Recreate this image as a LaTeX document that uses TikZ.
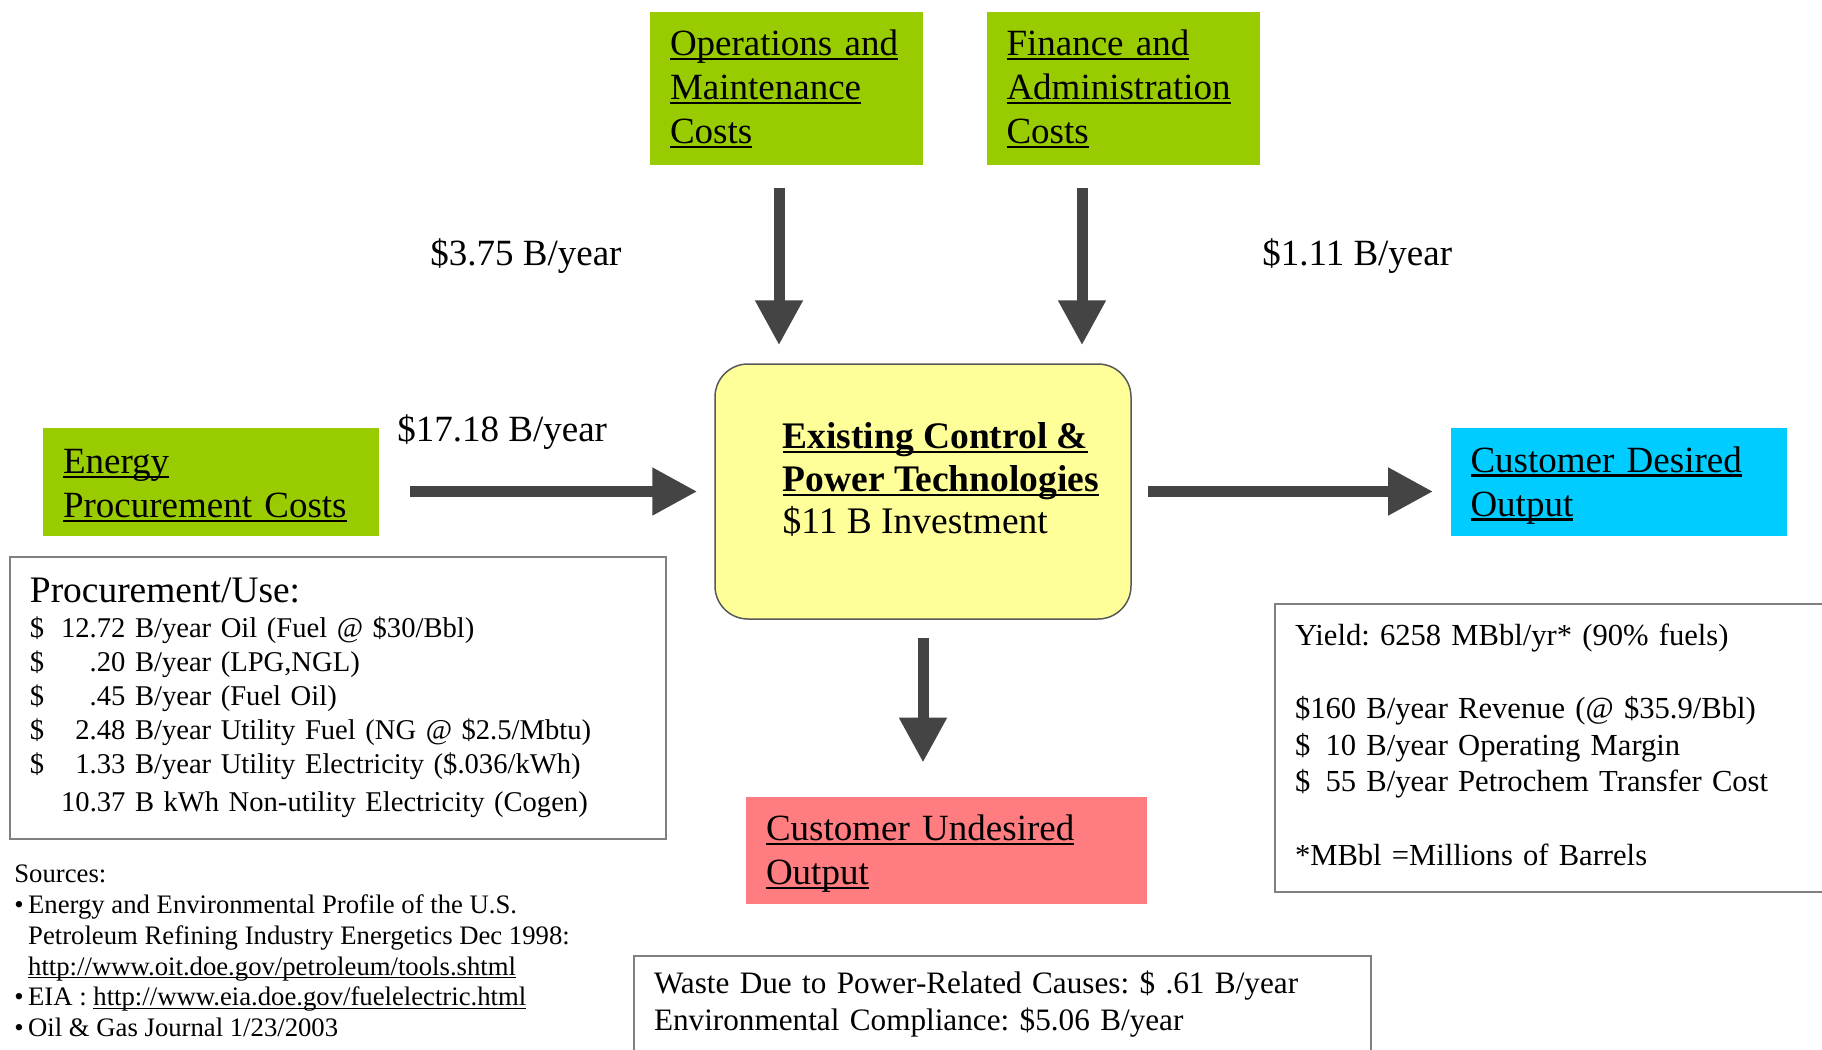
\documentclass[tikz,border=0pt]{standalone}
\usepackage{fontspec}
\setmainfont{Liberation Serif}
\usetikzlibrary{positioning,arrows.meta}
\definecolor{costgreen}{HTML}{99CC00}
\definecolor{goodblue}{HTML}{00CCFF}
\definecolor{badred}{HTML}{FF7C80}
\definecolor{techyellow}{HTML}{FFFF99}
\definecolor{flowgray}{HTML}{444444}
\definecolor{framegray}{HTML}{808080}
\definecolor{coregray}{HTML}{595959}
\newsavebox\ulnbox
\newcommand\uln[1]{\sbox\ulnbox{#1}\leavevmode\rlap{\rule[-0.12em]{\wd\ulnbox}{0.055em}}\usebox\ulnbox}
\newcommand\amt[2][\$]{\makebox[0pt][l]{#1}\makebox[47.75pt][r]{#2}}

\begin{document}
\frenchspacing
\begin{tikzpicture}[x=0.5pt,y=-0.5pt,
    bigfont/.style={font=\fontsize{18.5}{22}\selectfont},
    midfont/.style={font=\fontsize{15.3}{18.3}\selectfont},
    textbox/.style={align=left, inner xsep=10pt, inner ysep=0pt},
    costbox/.style={textbox, bigfont, fill=costgreen, text width=116.5pt, minimum height=76.5pt},
    outbox/.style={textbox, bigfont, text width=148pt, minimum height=54pt, execute at begin node=\rule{0pt}{16pt}},
    notebox/.style={textbox, draw=framegray, line width=0.75pt},
    amount/.style={bigfont, inner sep=0pt, anchor=west},
    flow/.style={draw=flowgray, line width=5.5pt, -{Triangle[width=22.5pt,length=22.5pt]}}]

  \fill[white] (0,0) rectangle (1822,1050);
  \useasboundingbox (0,0) rectangle (1822,1050);

  \node[costbox] (om) at (786.5,88.5) {\uln{Operations and}\\\uln{Maintenance}\\\uln{Costs}};
  \node[costbox] (fa) at (1123,88.5) {\uln{Finance and}\\\uln{Administration}\\\uln{Costs}};
  \node[outbox, fill=costgreen] (ep) at (211,482) {\uln{Energy}\\\uln{Procurement Costs}};
  \node[outbox, fill=goodblue] (cdo) at (1618.5,482) {\uln{Customer Desired}\\\uln{Output}};
  \node[outbox, fill=badred, text width=180.5pt, minimum height=53.5pt] (cuo) at (946.5,850.5) {\uln{Customer Undesired}\\\uln{Output}};

  \node[draw=coregray, line width=0.75pt, fill=techyellow, rounded corners=16.5pt,
        minimum width=208pt, minimum height=127.5pt] (core) at (923,491.5) {};
  \node[align=left, inner sep=0pt, font=\fontsize{18.75}{21.2}\selectfont,
        right=34pt of core.west, yshift=6pt] (corelbl)
    {\textbf{\uln{Existing Control \&}}\\\textbf{\uln{Power Technologies}}\\\$11 B Investment};

  \node[amount] (omamt) at (430,256.5) {\$3.75 B/year};
  \node[amount] (faamt) at (1262,256.5) {\$1.11 B/year};
  \node[amount] (epamt) at (397,432.5) {\$17.18 B/year};

  \draw[flow, shorten <=11.5pt, shorten >=9pt] ([xshift=-3.75pt]om.south) -- ([xshift=-3.75pt]om.south |- core.north);
  \draw[flow, shorten <=11.5pt, shorten >=9pt] ([xshift=-20.5pt]fa.south) -- ([xshift=-20.5pt]fa.south |- core.north);
  \draw[flow, shorten <=15.5pt, shorten >=8.5pt] (ep.east |- core.west) -- (core.west);
  \draw[flow, shorten <=8pt, shorten >=8.5pt] (core.east) -- (core.east -| cdo.west);
  \draw[flow, shorten <=9pt, shorten >=17pt] (core.south) -- (core.south |- cuo.north);

  \node[notebox, text width=308pt, minimum height=141pt, font=\fontsize{14.3}{17}\selectfont] (pu) at (338,698)
    {{\fontsize{18.7}{22}\selectfont Procurement/Use:}\\[0.25pt]
     \amt{12.72} B/year Oil (Fuel @ \$30/Bbl)\\
     \amt{.20} B/year (LPG,NGL)\\
     \amt{.45} B/year (Fuel Oil)\\
     \amt{2.48} B/year Utility Fuel (NG @ \$2.5/Mbtu)\\
     \amt{1.33} B/year Utility Electricity (\$.036/kWh)\\[2pt]
     \amt[]{10.37} B kWh Non-utility Electricity (Cogen)};

  \node[notebox, midfont, text width=267.5pt, minimum height=144pt] (yb) at (1562.5,748)
    {Yield: 6258 MBbl/yr* (90\% fuels)\\[18.3pt]
     \$160 B/year Revenue (@ \$35.9/Bbl)\\
     \$\phantom{1}10 B/year Operating Margin\\
     \$\phantom{1}55 B/year Petrochem Transfer Cost\\[18.3pt]
     *MBbl =Millions of Barrels\rule[-3.5pt]{0pt}{3.5pt}};

  \node[notebox, font=\fontsize{15.6}{18.5}\selectfont, text width=348.5pt, minimum height=48pt] (wb) at (1002.5,1004)
    {Waste Due to Power-Related Causes: \$ .61 B/year\\Environmental Compliance: \$5.06 B/year};

  \node[align=left, inner sep=0pt, anchor=west, font=\fontsize{13.35}{15.4}\selectfont] (src) at (14,951)
    {Sources:\\
     \textbullet\,Energy and Environmental Profile of the U.S.\\
     \phantom{\textbullet\,}Petroleum Refining Industry Energetics Dec 1998:\\
     \phantom{\textbullet\,}\uln{http://www.oit.doe.gov/petroleum/tools.shtml}\\
     \textbullet\,EIA : \uln{http://www.eia.doe.gov/fuelelectric.html}\\
     \textbullet\,Oil \& Gas Journal 1/23/2003};
\end{tikzpicture}
\end{document}
